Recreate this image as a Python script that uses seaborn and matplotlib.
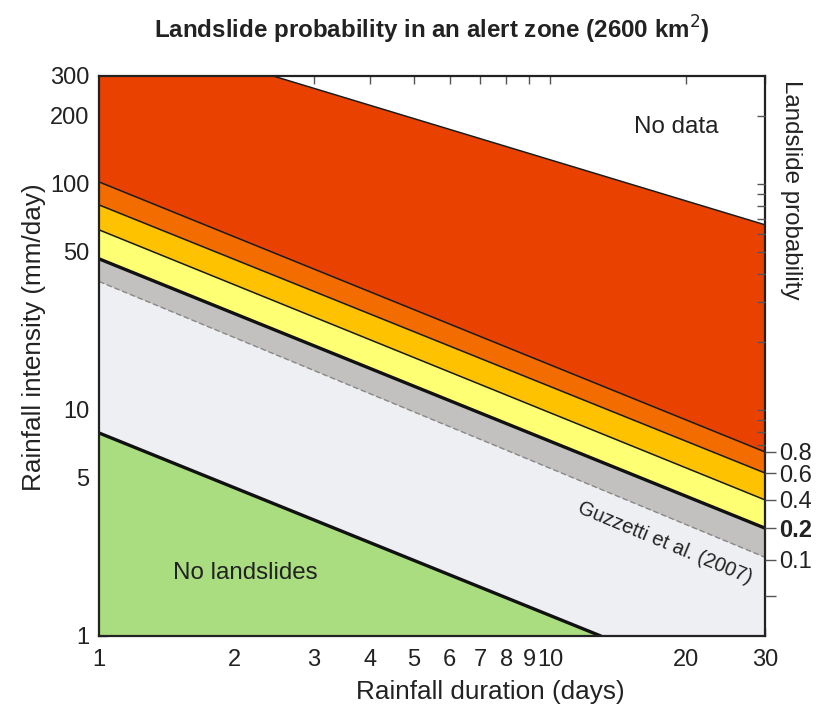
import numpy as np
import pandas as pd
import matplotlib
matplotlib.use("Agg")
import matplotlib.pyplot as plt
import seaborn as sns

# ---- data (line end points, log-log straight lines) ----
duration_ends = [1, 30]                 # days
top_nodata = [513, 65.9]                # upper limit of data (mm/day)
p08 = [102, 6.52]
p06 = [80.7, 5.26]
p04 = [62.6, 4.0]
p02 = [46.6, 3.0]
guzzetti = [37.0, 2.23]                 # Guzzetti et al. (2007)
no_ls_duration = [1, 12.97]
no_ls_intensity = [7.91, 1]

x_ticks = [1, 2, 3, 4, 5, 6, 7, 8, 9, 10, 20, 30]
y_major = [1, 5, 10, 50, 100, 200, 300]
y_minor = [2, 3, 4, 6, 7, 8, 9, 20, 30, 40, 60, 70, 80, 90]
prob_labels = ["0.8", "0.6", "0.4", "0.2", "0.1", ""]
prob_positions = [p08[1], p06[1], p04[1], p02[1], guzzetti[1] - 0.06, 1.5]
right_minor = [7, 8, 9, 10, 20, 30, 40, 50, 60, 70, 80, 90, 100, 200]

sns.set_theme(style="ticks")
plt.rcParams["font.family"] = ["Liberation Sans", "DejaVu Sans"]
TXT = "#222222"
FS = 17.4
FS_LAB = 18.8

fig = plt.figure(figsize=(8.21, 7.14), dpi=100)
ax = fig.add_axes([99/821, 1-636/714, (765-99)/821, (636-76)/714])
ax.set_xscale("log")
ax.set_yscale("log")
ax.set_xlim(1, 30)
ax.set_ylim(1, 300)

D = np.array(duration_ends, dtype=float)
c_red, c_orange, c_gold = "#E94100", "#F26C00", "#FFC200"
c_yellow, c_gray, c_light, c_green = "#FFFF73", "#C3C1BF", "#EEEFF2", "#AADD7F"

ax.fill_between(D, [1, 1], guzzetti, color=c_light, lw=0, zorder=1)
ax.fill_between(D, guzzetti, p02, color=c_gray, lw=0, zorder=1)
ax.fill_between(D, p02, p04, color=c_yellow, lw=0, zorder=1)
ax.fill_between(D, p04, p06, color=c_gold, lw=0, zorder=1)
ax.fill_between(D, p06, p08, color=c_orange, lw=0, zorder=1)
ax.fill_between(D, p08, top_nodata, color=c_red, lw=0, zorder=1)
ax.fill_between(no_ls_duration, [1, 1], no_ls_intensity, color=c_green, lw=0, zorder=1)

lines = pd.DataFrame({"D": duration_ends, "top": top_nodata, "p08": p08,
                      "p06": p06, "p04": p04, "p02": p02, "guz": guzzetti})
for col in ["top", "p08", "p06", "p04"]:
    sns.lineplot(data=lines, x="D", y=col, ax=ax, color="#1a1a1a", lw=1.1, zorder=3)
sns.lineplot(data=lines, x="D", y="p02", ax=ax, color="#111111", lw=2.4, zorder=3)
sns.lineplot(data=lines, x="D", y="guz", ax=ax, color="#888888", lw=1.0,
             linestyle=(0, (4, 2)), zorder=3)
sns.lineplot(x=no_ls_duration, y=no_ls_intensity, ax=ax, color="#111111", lw=2.4, zorder=3)

ax.set_xlabel("")
ax.set_ylabel("")

# ticks
ax.set_xticks(x_ticks)
ax.set_xticklabels([str(t) for t in x_ticks])
ax.xaxis.set_minor_locator(matplotlib.ticker.NullLocator())
ax.set_yticks(y_major)
ax.set_yticklabels([str(t) for t in y_major])
ax.set_yticks(y_minor, minor=True)
ax.yaxis.set_minor_formatter(matplotlib.ticker.NullFormatter())
ax.tick_params(axis="x", which="both", direction="in", top=True, bottom=True,
               length=6, width=1, color="#555555", labelsize=17, labelcolor=TXT, pad=9)
ax.tick_params(axis="y", which="both", direction="in", left=True, right=False,
               length=6, width=1, color="#555555", labelsize=17, labelcolor=TXT, pad=7)

for s in ax.spines.values():
    s.set_linewidth(1.6)
    s.set_color("#222222")
    s.set_zorder(5)

# right axis with probability labels
ax2 = ax.twinx()
ax2.set_yscale("log")
ax2.set_ylim(1, 300)
ax2.set_yticks(prob_positions)
ax2.set_yticklabels(prob_labels)
ax2.set_yticks(right_minor, minor=True)
ax2.yaxis.set_minor_formatter(matplotlib.ticker.NullFormatter())
ax2.tick_params(axis="y", which="major", direction="out", length=8, width=1,
                color="#555555", labelsize=17, labelcolor=TXT, pad=2)
ax2.tick_params(axis="y", which="minor", direction="in", length=6, width=1, color="#555555")
for lab in ax2.get_yticklabels():
    if lab.get_text() == "0.2":
        lab.set_fontweight("bold")
for s in ax2.spines.values():
    s.set_visible(False)

# texts
fig.text(676/821, 1-127/714, "No data", fontsize=FS, color=TXT,
         ha="center", va="center")
fig.text(245/821, 1-573/714, "No landslides", fontsize=FS, color=TXT,
         ha="center", va="center")
fig.text(665/821, 1-543/714, "Guzzetti et al. (2007)", fontsize=14.5, color=TXT,
         ha="center", va="center", rotation=-22.5, rotation_mode="anchor")
fig.text(432/821, 1-30/714, "Landslide probability in an alert zone (2600 km$^2$)",
         fontsize=17.4, fontweight="bold", color=TXT, ha="center", va="center")
fig.text(490/821, 1-692/714, "Rainfall duration (days)", fontsize=FS_LAB, color=TXT,
         ha="center", va="center")
fig.text(34/821, 1-337/714, "Rainfall intensity (mm/day)", fontsize=FS_LAB, color=TXT,
         ha="center", va="center", rotation=90)
fig.text(791/821, 1-190/714, "Landslide probability", fontsize=FS, color=TXT,
         ha="center", va="center", rotation=-90)

fig.savefig("out.png", dpi=100)
